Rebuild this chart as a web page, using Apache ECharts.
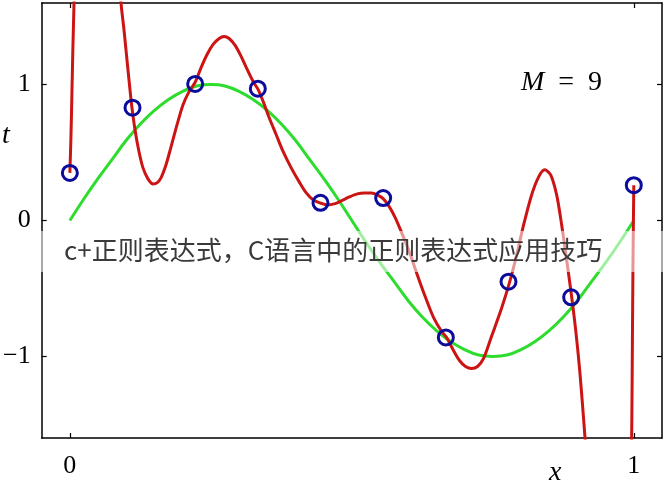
<!DOCTYPE html>
<html>
<head>
<meta charset="utf-8">
<script src="https://cdn.jsdelivr.net/npm/echarts@6/dist/echarts.min.js"></script>
<style>html,body{margin:0;padding:0;background:#fff}#c{width:664px;height:490px}</style>
</head>
<body>
<div id="c"></div>
<script>
// Observed data points (blue circles)
const pointX = [0, 0.1111, 0.2222, 0.3333, 0.4444, 0.5556, 0.6667, 0.7778, 0.8889, 1];
const pointT = [0.35, 0.83, 1.005, 0.97, 0.13, 0.165, -0.86, -0.45, -0.565, 0.26];

// Green curve
const greenX = [0, 0.025, 0.05, 0.075, 0.1, 0.125, 0.15, 0.175, 0.2, 0.225, 0.25, 0.275, 0.3, 0.325, 0.35, 0.375, 0.4, 0.425, 0.45, 0.475, 0.5, 0.525, 0.55, 0.575, 0.6, 0.625, 0.65, 0.675, 0.7, 0.725, 0.75, 0.775, 0.8, 0.825, 0.85, 0.875, 0.9, 0.925, 0.95, 0.975, 1];
const greenY = [0, 0.16, 0.31, 0.45, 0.59, 0.71, 0.81, 0.89, 0.95, 0.99, 1.0, 0.99, 0.95, 0.89, 0.81, 0.71, 0.59, 0.45, 0.31, 0.16, 0, -0.16, -0.31, -0.45, -0.59, -0.71, -0.81, -0.89, -0.95, -0.99, -1.0, -0.99, -0.95, -0.89, -0.81, -0.71, -0.59, -0.45, -0.31, -0.16, 0];

// Red M=9 curve, three visible pieces
const redAX = [0, 0.0018, 0.0036, 0.0053, 0.0071, 0.008];
const redAY = [0.35, 0.594, 0.926, 1.258, 1.554, 1.775];
const redBX = [0.0888, 0.0906, 0.0959, 0.1012, 0.1066, 0.1101, 0.1155, 0.1226, 0.1297, 0.1385, 0.1474, 0.1545, 0.1616, 0.1705, 0.1794, 0.1901, 0.2007, 0.2114, 0.2220, 0.2327, 0.2433, 0.2540, 0.2647, 0.2735, 0.2824, 0.2931, 0.3037, 0.3144, 0.3250, 0.3339, 0.3428, 0.3535, 0.3659, 0.3783, 0.3925, 0.4067, 0.4192, 0.4316, 0.4440, 0.4565, 0.4689, 0.4813, 0.4956, 0.5098, 0.5222, 0.5346, 0.5453, 0.5560, 0.5666, 0.5773, 0.5879, 0.6021, 0.6163, 0.6306, 0.6448, 0.6590, 0.6679, 0.6803, 0.6909, 0.7016, 0.7123, 0.7229, 0.7336, 0.7478, 0.7655, 0.7798, 0.7922, 0.8046, 0.8188, 0.8313, 0.8419, 0.8526, 0.8632, 0.8721, 0.8810, 0.8899, 0.8970, 0.9041, 0.9112, 0.9165];
const redBY = [1.775, 1.605, 1.406, 1.185, 0.963, 0.830, 0.668, 0.506, 0.387, 0.306, 0.269, 0.277, 0.314, 0.410, 0.542, 0.705, 0.852, 0.948, 1.015, 1.125, 1.221, 1.295, 1.339, 1.354, 1.339, 1.288, 1.207, 1.111, 1.022, 0.963, 0.875, 0.756, 0.631, 0.506, 0.387, 0.284, 0.203, 0.151, 0.129, 0.114, 0.122, 0.144, 0.173, 0.196, 0.203, 0.203, 0.188, 0.159, 0.100, 0.018, -0.085, -0.232, -0.402, -0.565, -0.712, -0.815, -0.860, -0.956, -1.030, -1.074, -1.089, -1.074, -1.015, -0.852, -0.646, -0.454, -0.255, -0.033, 0.188, 0.321, 0.373, 0.336, 0.188, -0.033, -0.292, -0.565, -0.808, -1.103, -1.472, -1.768];
const redCX = [0.9956, 0.9965, 0.9975, 0.9985, 0.9993, 1.0];
const redCY = [-1.768, -1.47, -0.9, -0.35, 0.0, 0.26];

const xTicks = [0, 1];
const yTicks = [-1, 0, 1];

const zip = (xs, ys) => xs.map((x, i) => [x, ys[i]]);
const redData = [].concat(zip(redAX, redAY), [[0.05, '-']], zip(redBX, redBY), [[0.95, '-']], zip(redCX, redCY));

const serif = "'Liberation Serif', 'DejaVu Serif', 'Times New Roman', serif";
const axisLineStyle = { color: '#000', width: 1.5 };
function xAxisDef(pos, showLabel) {
  return {
    type: 'value', position: pos, min: -0.05, max: 1.05,
    axisLine: { show: true, onZero: false, lineStyle: axisLineStyle },
    splitLine: { show: false },
    axisTick: { show: true, inside: true, length: 5, customValues: xTicks, lineStyle: { color: '#000', width: 1.2 } },
    axisLabel: { show: showLabel, customValues: xTicks, margin: 15, fontFamily: serif, fontSize: 26, color: '#000' }
  };
}
function yAxisDef(pos, showLabel) {
  return {
    type: 'value', position: pos, min: -1.6, max: 1.6,
    axisLine: { show: true, onZero: false, lineStyle: axisLineStyle },
    splitLine: { show: false },
    axisTick: { show: true, inside: true, length: 5, customValues: yTicks, lineStyle: { color: '#000', width: 1.2 } },
    axisLabel: { show: showLabel, customValues: yTicks, margin: 11, fontFamily: serif, fontSize: 26, color: '#000',
      formatter: v => v < 0 ? '\u2212' + Math.abs(v) : String(v) }
  };
}

const chart = echarts.init(document.getElementById('c'), null, { renderer: 'canvas' });
chart.setOption({
  animation: false,
  backgroundColor: '#fff',
  grid: { left: 41, right: 2, top: 3, bottom: 52, containLabel: false },
  xAxis: [xAxisDef('bottom', true), xAxisDef('top', false)],
  yAxis: [yAxisDef('left', true), yAxisDef('right', false)],
  series: [
    { type: 'line', data: zip(greenX, greenY), smooth: 0.4, showSymbol: false, clip: true,
      lineStyle: { color: '#2edc2e', width: 3 }, z: 2 },
    { type: 'line', data: redData, smooth: 0.3, showSymbol: false, clip: true, connectNulls: false,
      lineStyle: { color: '#cc1414', width: 3 }, z: 3 },
    { type: 'scatter', data: zip(pointX, pointT), symbol: 'circle', symbolSize: 15, clip: false,
      itemStyle: { color: 'rgba(0,0,0,0)', borderColor: '#0c0c9c', borderWidth: 3, opacity: 1 }, z: 4 }
  ],
  graphic: [
    { type: 'text', left: 2, top: 122, z: 50, style: { text: 't', fontFamily: serif, fontStyle: 'italic', fontSize: 28, fill: '#000' } },
    { type: 'text', left: 549, top: 459, z: 50, style: { text: 'x', fontFamily: serif, fontStyle: 'italic', fontSize: 28, fill: '#000' } },
    { type: 'text', left: 521, top: 69, z: 50, style: { text: '{m|M}{e|  =  9}', rich: {
        m: { fontFamily: serif, fontStyle: 'italic', fontSize: 28, fill: '#000' },
        e: { fontFamily: serif, fontSize: 28, fill: '#000' } } } },
    { type: 'rect', z: 90, shape: { x: 0, y: 231, width: 664, height: 41 }, style: { fill: 'rgba(255,255,255,0.55)' } },
    { type: 'text', left: 64, top: 237, z: 100, style: { text: 'c+正则表达式，C语言中的正则表达式应用技巧', fontFamily: "'Noto Sans CJK SC'", fontSize: 26, fill: '#3a3a3a' } }
  ]
});
</script>
</body>
</html>
